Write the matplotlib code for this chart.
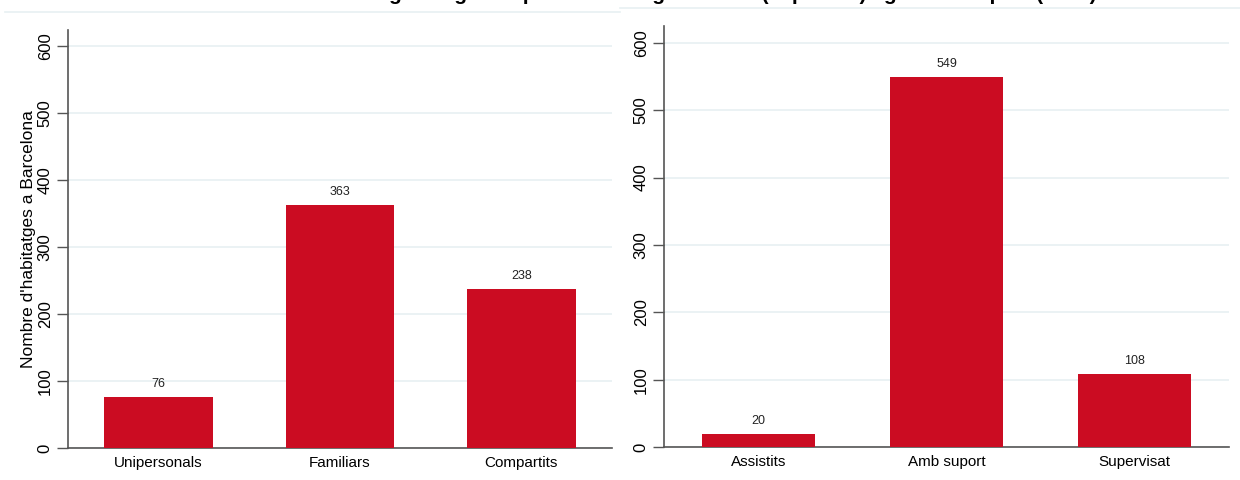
import matplotlib.pyplot as plt
from matplotlib.lines import Line2D

plt.rcParams['font.family'] = ['Liberation Sans', 'DejaVu Sans']

# data
tipus = ["Unipersonals", "Familiars", "Compartits"]
tipus_vals = [76, 363, 238]
suport = ["Assistits", "Amb suport", "Supervisat"]
suport_vals = [20, 549, 108]
yticks = [0, 100, 200, 300, 400, 500, 600]

title = "Habitatges segons tipus d'habitatge i model (capacitat) i grau de suport (2020)"
ylabel = "Nombre d'habitatges a Barcelona"

RED = "#CB0C22"
GRID = "#E8F0F2"
SPINE = "#555555"

fig = plt.figure(figsize=(12.4, 4.8), dpi=100)
W, H = 1240, 480


def box(x0, y0, x1, y1):
    # pixel box -> figure fraction
    return [x0 / W, 1 - y1 / H, (x1 - x0) / W, (y1 - y0) / H]


def panel(ax, cats, vals):
    x = range(len(cats))
    bars = ax.bar(x, vals, width=0.6, color=RED, zorder=3)
    for b, v in zip(bars, vals):
        ax.annotate(str(v), (b.get_x() + b.get_width() / 2, v),
                    xytext=(0, 5), textcoords="offset points",
                    ha="center", va="bottom", fontsize=9, color="#222222")
    ax.set_xlim(-0.5, 2.5)
    ax.set_ylim(0, 624)
    ax.set_xticks(list(x))
    ax.set_xticklabels(cats, fontsize=11)
    ax.tick_params(axis="x", length=0, pad=6)
    ax.set_yticks(yticks)
    ax.set_yticklabels([str(t) for t in yticks], rotation=90, va="center", fontsize=12)
    ax.tick_params(axis="y", length=8, width=1, color=SPINE, pad=3)
    ax.grid(axis="y", color=GRID, linewidth=1.2, zorder=0)
    ax.spines["top"].set_visible(False)
    ax.spines["right"].set_visible(False)
    for s in ("left", "bottom"):
        ax.spines[s].set_color(SPINE)
        ax.spines[s].set_linewidth(1.2)


ax1 = fig.add_axes(box(68, 30, 612, 448))
panel(ax1, tipus, tipus_vals)
ax1.set_ylabel(ylabel, fontsize=12.5, labelpad=1)

ax2 = fig.add_axes(box(664, 26, 1229, 447))
panel(ax2, suport, suport_vals)
ax2.set_ylim(0, 625)

# light borders of the two graph regions at the top
fig.add_artist(Line2D([5 / W, 620 / W], [1 - 12 / H, 1 - 12 / H], color=GRID, lw=1.2))
fig.add_artist(Line2D([620 / W, 1240 / W], [1 - 8 / H, 1 - 8 / H], color=GRID, lw=1.2))

# title, cropped at the top in the reference (only descenders show)
fig.text(318 / W, 1 + 0.5 / H, title, ha="left", va="baseline",
         fontsize=15, fontweight="bold", color="black")

fig.savefig("out.png", dpi=100, facecolor="white")
